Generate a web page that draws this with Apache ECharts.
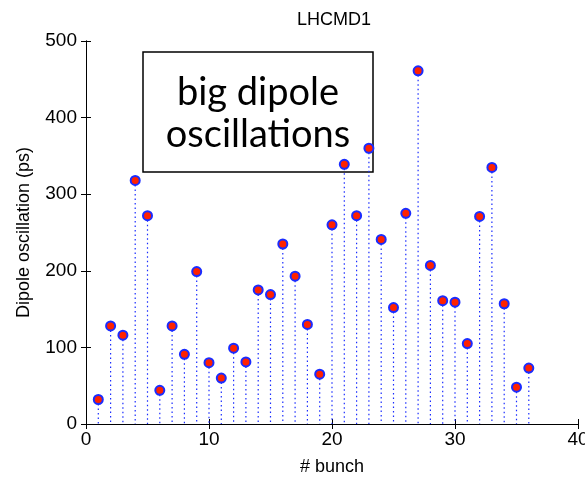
<!DOCTYPE html>
<html>
<head>
<meta charset="utf-8">
<script src="https://cdn.jsdelivr.net/npm/echarts@6/dist/echarts.min.js"></script>
<style>
  html, body { margin: 0; padding: 0; background: #fff; }
  #chart { width: 585px; height: 477px; }
</style>
</head>
<body>
<div id="chart"></div>
<script>
// bunch numbers and dipole oscillation amplitude (ps)
const bunches = [1, 2, 3, 4, 5, 6, 7, 8, 9, 10, 11, 12, 13, 14, 15, 16, 17, 18,
  19, 20, 21, 22, 23, 24, 25, 26, 27, 28, 29, 30, 31, 32, 33, 34, 35, 36];
const oscillation = [32, 128, 116, 318, 272, 44, 128, 91, 199, 80, 60, 99, 81, 175, 169, 235, 193, 130,
  65, 260, 339, 272, 360, 241, 152, 275, 461, 207, 161, 159, 105, 271, 335, 157, 48, 73];

const xTicks = [0, 10, 20, 30, 40];
const yTicks = [0, 100, 200, 300, 400, 500];

const points = bunches.map((b, i) => [b, oscillation[i]]);

const font = '"Liberation Sans", Arial, sans-serif';
const axisLine = { show: true, lineStyle: { color: '#000', width: 1 } };
const axisTick = { show: true, inside: true, length: 5, lineStyle: { color: '#000' } };

const chart = echarts.init(document.getElementById('chart'), null, { renderer: 'canvas' });

chart.setOption({
  backgroundColor: '#fff',
  animation: false,
  title: {
    text: 'LHCMD1',
    left: 329,
    top: 6,
    textAlign: 'center',
    textStyle: { fontFamily: font, fontSize: 18, fontWeight: 'normal', color: '#000' },
  },
  grid: { left: 86, right: 7, top: 41, bottom: 53, containLabel: false, outerBoundsMode: 'none' },
  xAxis: [
    {
      type: 'value',
      min: xTicks[0],
      max: xTicks[xTicks.length - 1],
      interval: 10,
      name: '# bunch',
      nameLocation: 'middle',
      nameGap: 34,
      nameTextStyle: { fontFamily: font, fontSize: 18, color: '#000' },
      axisLine, axisTick,
      axisLabel: { fontFamily: font, fontSize: 19, color: '#000', margin: 6 },
      splitLine: { show: false },
    },
    {
      type: 'value', position: 'top',
      min: xTicks[0], max: xTicks[xTicks.length - 1], interval: 10,
      axisLine, axisTick,
      axisLabel: { show: false },
      splitLine: { show: false },
    },
  ],
  yAxis: [
    {
      type: 'value',
      min: yTicks[0],
      max: yTicks[yTicks.length - 1],
      interval: 100,
      name: 'Dipole oscillation (ps)',
      nameLocation: 'middle',
      nameGap: 53,
      nameTextStyle: { fontFamily: font, fontSize: 18, color: '#000' },
      axisLine, axisTick,
      axisLabel: { fontFamily: font, fontSize: 19, color: '#000', margin: 9 },
      splitLine: { show: false },
    },
    {
      type: 'value', position: 'right',
      min: yTicks[0], max: yTicks[yTicks.length - 1], interval: 100,
      axisLine, axisTick,
      axisLabel: { show: false },
      splitLine: { show: false },
    },
  ],
  graphic: [
    {
      type: 'rect',
      x: 143, y: 52,
      shape: { width: 230, height: 120 },
      style: { fill: 'none', stroke: '#000', lineWidth: 1.5 },
      z: 1,
    },
    {
      type: 'text',
      x: 258, y: 114,
      style: {
        text: 'big dipole\noscillations',
        align: 'center', verticalAlign: 'middle',
        font: '38px Lato, "Open Sans", sans-serif',
        lineHeight: 42,
        fill: '#000',
      },
      z: 1,
    },
  ],
  series: [
    {
      // dotted stems from zero up to each value
      type: 'custom',
      data: points,
      renderItem: (params, api) => {
        const top = api.coord([api.value(0), api.value(1)]);
        const base = api.coord([api.value(0), 0]);
        return {
          type: 'line',
          shape: { x1: top[0], y1: top[1], x2: base[0], y2: base[1] },
          style: { stroke: '#1a2cff', lineWidth: 1.2, lineDash: [1.5, 3] },
        };
      },
      z: 2,
    },
    {
      type: 'scatter',
      data: points,
      symbol: 'circle',
      symbolSize: 9,
      itemStyle: { color: '#ff2200', borderColor: '#1a2cff', borderWidth: 2, opacity: 1 },
      z: 3,
    },
  ],
});
</script>
</body>
</html>
